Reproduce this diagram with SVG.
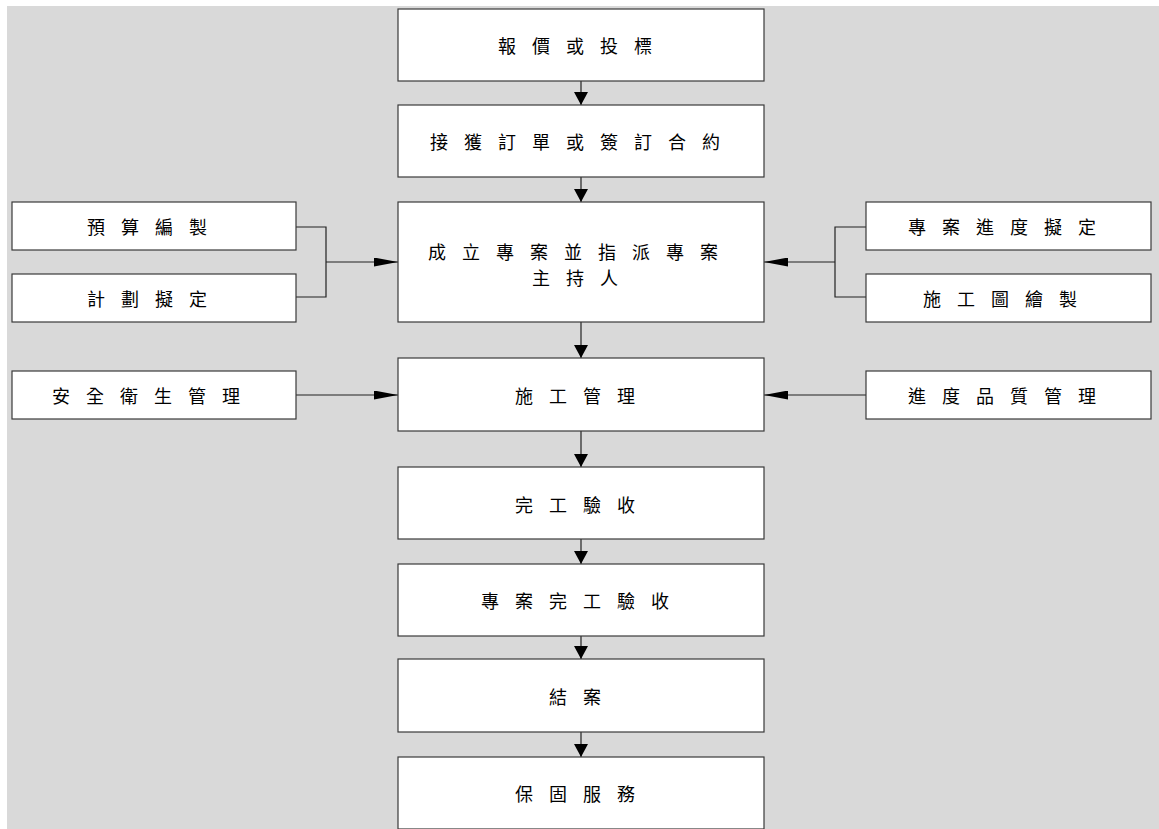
<svg xmlns="http://www.w3.org/2000/svg" width="1159" height="829" viewBox="0 0 1159 829">
<defs>
<style>
.box{fill:#ffffff;stroke:#3a3a3a;stroke-width:1.2}
.t{font-family:"Noto Sans CJK TC","Noto Sans CJK SC",sans-serif;font-size:18px;letter-spacing:16px;fill:#000;text-anchor:middle;dominant-baseline:central}
.c{fill:none;stroke:#222;stroke-width:1.2}
</style>
<marker id="ad" markerWidth="14" markerHeight="13" refX="7" refY="13" orient="0" markerUnits="userSpaceOnUse"><path d="M0,0 L14,0 L7,13 Z" fill="#000"/></marker>
<marker id="ar" markerWidth="24" markerHeight="9" refX="24" refY="4.5" orient="0" markerUnits="userSpaceOnUse"><path d="M0,0 L24,4.5 L0,9 Z" fill="#000"/></marker>
<marker id="al" markerWidth="24" markerHeight="9" refX="0" refY="4.5" orient="0" markerUnits="userSpaceOnUse"><path d="M24,0 L0,4.5 L24,9 Z" fill="#000"/></marker>
</defs>
<rect x="0" y="0" width="1159" height="829" fill="#ffffff"/>
<rect x="7" y="6" width="1152" height="823" fill="#d9d9d9"/>

<g id="connectors">
<line class="c" x1="581" y1="81" x2="581" y2="105" marker-end="url(#ad)"/>
<line class="c" x1="581" y1="177" x2="581" y2="202" marker-end="url(#ad)"/>
<line class="c" x1="581" y1="322" x2="581" y2="358" marker-end="url(#ad)"/>
<line class="c" x1="581" y1="431" x2="581" y2="467" marker-end="url(#ad)"/>
<line class="c" x1="581" y1="539" x2="581" y2="564" marker-end="url(#ad)"/>
<line class="c" x1="581" y1="636" x2="581" y2="659" marker-end="url(#ad)"/>
<line class="c" x1="581" y1="732" x2="581" y2="757" marker-end="url(#ad)"/>
<polyline class="c" points="296,227 326,227 326,297 296,297"/>
<line class="c" x1="326" y1="262" x2="398" y2="262" marker-end="url(#ar)"/>
<polyline class="c" points="866,227 835,227 835,297 866,297"/>
<line class="c" x1="835" y1="262" x2="764" y2="262" marker-end="url(#al)"/>
<line class="c" x1="296" y1="395" x2="398" y2="395" marker-end="url(#ar)"/>
<line class="c" x1="866" y1="395" x2="764" y2="395" marker-end="url(#al)"/>
</g>

<g id="n1"><rect class="box" x="398" y="9" width="366" height="72"/><text class="t" x="583" y="45">報價或投標</text></g>
<g id="n2"><rect class="box" x="398" y="105" width="366" height="72"/><text class="t" x="583" y="141">接獲訂單或簽訂合約</text></g>
<g id="n3"><rect class="box" x="398" y="202" width="366" height="120"/><text class="t" x="581" y="251">成立專案並指派專案</text><text class="t" x="583" y="277">主持人</text></g>
<g id="n4"><rect class="box" x="398" y="358" width="366" height="73"/><text class="t" x="583" y="395">施工管理</text></g>
<g id="n5"><rect class="box" x="398" y="467" width="366" height="72"/><text class="t" x="583" y="504">完工驗收</text></g>
<g id="n6"><rect class="box" x="398" y="564" width="366" height="72"/><text class="t" x="583" y="600">專案完工驗收</text></g>
<g id="n7"><rect class="box" x="398" y="659" width="366" height="73"/><text class="t" x="583" y="696">結案</text></g>
<g id="n8"><rect class="box" x="398" y="757" width="366" height="72"/><text class="t" x="583" y="793">保固服務</text></g>

<g id="s1"><rect class="box" x="12" y="202" width="284" height="48"/><text class="t" x="155" y="226">預算編製</text></g>
<g id="s2"><rect class="box" x="12" y="274" width="284" height="48"/><text class="t" x="155" y="298">計劃擬定</text></g>
<g id="s3"><rect class="box" x="866" y="202" width="285" height="48"/><text class="t" x="1010" y="226">專案進度擬定</text></g>
<g id="s4"><rect class="box" x="866" y="274" width="285" height="48"/><text class="t" x="1008" y="298">施工圖繪製</text></g>
<g id="s5"><rect class="box" x="12" y="371" width="284" height="48"/><text class="t" x="154" y="395">安全衛生管理</text></g>
<g id="s6"><rect class="box" x="866" y="371" width="285" height="48"/><text class="t" x="1010" y="395">進度品質管理</text></g>
</svg>
